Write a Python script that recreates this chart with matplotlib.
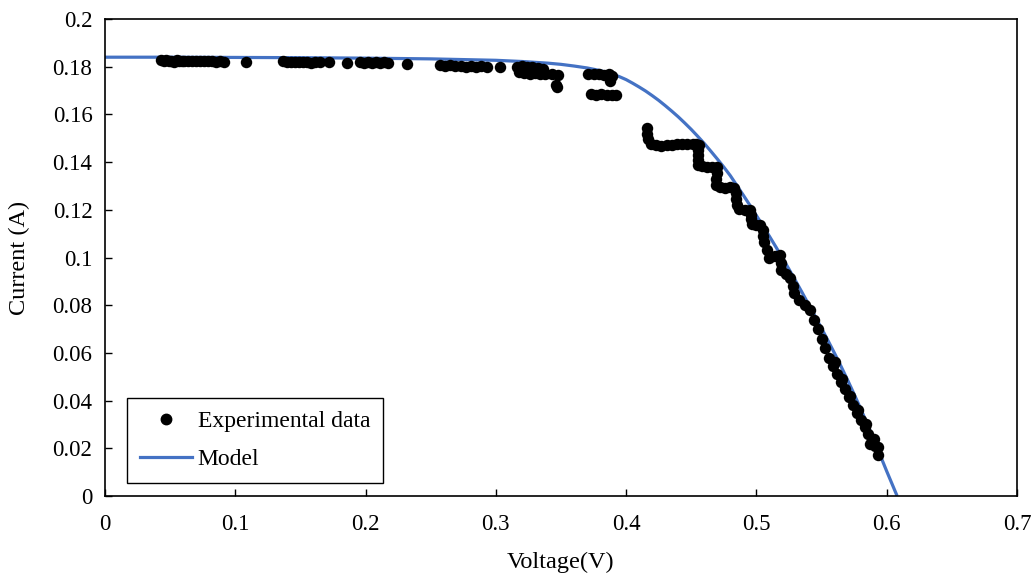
import matplotlib
matplotlib.use("Agg")
import matplotlib.pyplot as plt
from matplotlib.lines import Line2D

# ---------------- data ----------------
exp_voltage = [
    0.043, 0.045, 0.047, 0.049, 0.051, 0.053, 0.055, 0.057, 0.059, 0.061,
    0.064, 0.067, 0.070, 0.073, 0.076, 0.079, 0.082, 0.085, 0.088, 0.091,
    0.108,
    0.137, 0.140, 0.143, 0.146, 0.149, 0.152, 0.155, 0.158, 0.161, 0.165,
    0.172, 0.186,
    0.196, 0.199, 0.202, 0.205, 0.208, 0.211, 0.214, 0.217,
    0.232,
    0.257, 0.261, 0.265, 0.269, 0.273, 0.277, 0.281, 0.285, 0.289, 0.293,
    0.303,
    0.316, 0.320, 0.324, 0.328, 0.332, 0.318, 0.322, 0.326, 0.330, 0.334,
    0.336, 0.338, 0.343, 0.348, 0.346, 0.347,
    0.371, 0.375, 0.379, 0.383, 0.387, 0.389, 0.388,
    0.373, 0.377, 0.381, 0.385, 0.389, 0.392,
    0.416, 0.416, 0.417, 0.419, 0.423, 0.427, 0.431, 0.435, 0.439, 0.443,
    0.447, 0.451, 0.454,
    0.456, 0.455, 0.455, 0.455, 0.455,
    0.458, 0.462, 0.466, 0.470,
    0.470, 0.469, 0.469,
    0.472, 0.476, 0.480, 0.483,
    0.484, 0.484, 0.485,
    0.487, 0.491, 0.495,
    0.496, 0.496, 0.497,
    0.500, 0.503,
    0.505, 0.505, 0.506,
    0.508, 0.510, 0.514, 0.518, 0.519, 0.519, 0.523, 0.526, 0.528, 0.529,
    0.533, 0.537,
    0.541, 0.544, 0.547, 0.550, 0.553, 0.556, 0.559, 0.562, 0.565, 0.568,
    0.571, 0.574, 0.577, 0.580, 0.583, 0.586, 0.589, 0.591, 0.593, 0.593,
    0.587, 0.560, 0.566, 0.572, 0.578, 0.584, 0.590,
]
exp_current = [
    0.1828, 0.1822, 0.1830, 0.1824, 0.1826, 0.1820, 0.1828, 0.1823, 0.1826, 0.1822,
    0.1825, 0.1823, 0.1824, 0.1822, 0.1824, 0.1822, 0.1823, 0.1821, 0.1822, 0.1820,
    0.1819,
    0.1822, 0.1819, 0.1821, 0.1818, 0.1820, 0.1818, 0.1820, 0.1817, 0.1819, 0.1818,
    0.1818, 0.1817,
    0.1821, 0.1817, 0.1820, 0.1816, 0.1819, 0.1816, 0.1818, 0.1815,
    0.1812,
    0.1808, 0.1803, 0.1806, 0.1801, 0.1805, 0.1800, 0.1803, 0.1800, 0.1802, 0.1799,
    0.1797,
    0.1800, 0.1803, 0.1800, 0.1798, 0.1795, 0.1780, 0.1775, 0.1770, 0.1772, 0.1768,
    0.1790, 0.1770, 0.1768, 0.1765, 0.1725, 0.1715,
    0.1768, 0.1770, 0.1768, 0.1766, 0.1768, 0.1760, 0.1740,
    0.1685, 0.1683, 0.1685, 0.1683, 0.1680, 0.1683,
    0.1545, 0.1520, 0.1495, 0.1478, 0.1470, 0.1468, 0.1470, 0.1472, 0.1474, 0.1475,
    0.1474, 0.1476, 0.1478,
    0.1470, 0.1450, 0.1430, 0.1410, 0.1390,
    0.1382, 0.1380, 0.1380, 0.1378,
    0.1355, 0.1330, 0.1305,
    0.1295, 0.1293, 0.1295, 0.1290,
    0.1270, 0.1245, 0.1220,
    0.1205, 0.1200, 0.1198,
    0.1180, 0.1160, 0.1140,
    0.1135, 0.1135,
    0.1115, 0.1090, 0.1065,
    0.1030, 0.1000, 0.1005, 0.1010, 0.0975, 0.0948, 0.0930, 0.0915, 0.0880, 0.0850,
    0.0820, 0.0800,
    0.0780, 0.0740, 0.0700, 0.0660, 0.0620, 0.0580, 0.0545, 0.0510, 0.0480, 0.0450,
    0.0415, 0.0380, 0.0350, 0.0320, 0.0290, 0.0260, 0.0235, 0.0210, 0.0205, 0.0170,
    0.0220, 0.0560, 0.0490, 0.0420, 0.0360, 0.0300, 0.0240,
]

model_voltage = [0.000, 0.050, 0.100, 0.150, 0.200, 0.250, 0.300, 0.320, 0.340,
                 0.350, 0.360, 0.370, 0.380, 0.390, 0.395, 0.400, 0.405, 0.410,
                 0.415, 0.420, 0.425, 0.430, 0.435, 0.440, 0.445, 0.450, 0.455,
                 0.460, 0.465, 0.470, 0.475, 0.480, 0.485, 0.490, 0.495, 0.500,
                 0.505, 0.510, 0.515, 0.520, 0.525, 0.530, 0.535, 0.540, 0.545,
                 0.550, 0.555, 0.560, 0.565, 0.570, 0.575, 0.580, 0.585, 0.590,
                 0.595, 0.600, 0.604, 0.608]
model_current = [0.1840, 0.1840, 0.1839, 0.1838, 0.1836, 0.1833, 0.1827, 0.1822, 0.1815,
                 0.1810, 0.1803, 0.1795, 0.1784, 0.1768, 0.1758, 0.1746, 0.1731, 0.1715,
                 0.1698, 0.1679, 0.1659, 0.1637, 0.1614, 0.1590, 0.1564, 0.1537, 0.1508,
                 0.1478, 0.1446, 0.1413, 0.1379, 0.1343, 0.1302, 0.1261, 0.1219, 0.1176,
                 0.1133, 0.1089, 0.1044, 0.0998, 0.0951, 0.0903, 0.0854, 0.0804, 0.0754,
                 0.0703, 0.0651, 0.0598, 0.0543, 0.0486, 0.0427, 0.0366, 0.0303, 0.0238,
                 0.0171, 0.0104, 0.0052, 0.0000]

x_ticks = [0, 0.1, 0.2, 0.3, 0.4, 0.5, 0.6, 0.7]
x_tick_labels = ["0", "0.1", "0.2", "0.3", "0.4", "0.5", "0.6", "0.7"]
y_ticks = [0, 0.02, 0.04, 0.06, 0.08, 0.1, 0.12, 0.14, 0.16, 0.18, 0.2]
y_tick_labels = ["0", "0.02", "0.04", "0.06", "0.08", "0.1", "0.12", "0.14",
                 "0.16", "0.18", "0.2"]

# ---------------- figure ----------------
plt.rcParams['font.family'] = ['Liberation Serif', 'DejaVu Serif']
fig = plt.figure(figsize=(10.33, 5.77), dpi=100)
ax = fig.add_axes([0.1016, 0.1404, 0.8829, 0.8266])

blue = "#4472C4"
ax.scatter(exp_voltage, exp_current, s=68, color="black", zorder=3,
           linewidths=0, label="Experimental data")
ax.plot(model_voltage, model_current, color=blue, lw=2.3, zorder=2,
        solid_capstyle="butt", solid_joinstyle="round", label="Model")

ax.set_xlim(0, 0.7)
ax.set_ylim(0, 0.2)
ax.set_xticks(x_ticks)
ax.set_xticklabels(x_tick_labels)
ax.set_yticks(y_ticks)
ax.set_yticklabels(y_tick_labels)
ax.tick_params(axis="both", direction="in", length=5, width=1, labelsize=16.5,
               colors="black")
ax.tick_params(axis="x", pad=13)
ax.tick_params(axis="y", pad=9)
for sp in ax.spines.values():
    sp.set_linewidth(1.2)
    sp.set_color("black")

ax.set_xlabel("Voltage(V)", fontsize=17.5, labelpad=12)
ax.set_ylabel("Current (A)", fontsize=17.5, labelpad=16)

handles = [
    Line2D([], [], marker="o", color="black", ls="none", markersize=7.5),
    Line2D([], [], color=blue, lw=2.3),
]
leg = ax.legend(handles, ["Experimental data", "Model"], loc="lower left",
                bbox_to_anchor=(0.024, 0.027), fontsize=17, frameon=True,
                fancybox=False, edgecolor="black", framealpha=1,
                handlelength=2.2, handletextpad=0.25, borderpad=0.55,
                labelspacing=0.7, borderaxespad=0)
leg.get_frame().set_linewidth(1.0)

fig.savefig("out.png", dpi=100)
